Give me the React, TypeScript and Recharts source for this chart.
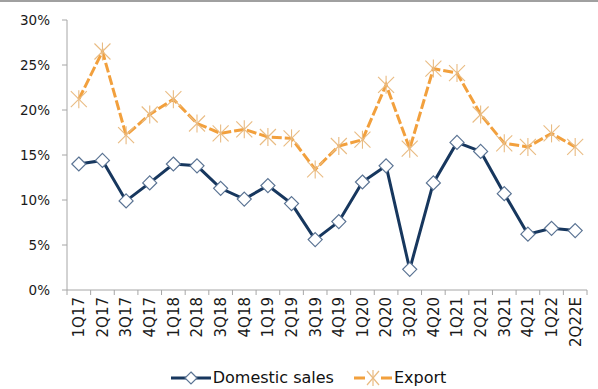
import React from 'react';
import { LineChart, Line, XAxis, YAxis, Legend } from 'recharts';

const quarters = ['1Q17','2Q17','3Q17','4Q17','1Q18','2Q18','3Q18','4Q18','1Q19','2Q19','3Q19','4Q19','1Q20','2Q20','3Q20','4Q20','1Q21','2Q21','3Q21','4Q21','1Q22','2Q22E'];
const domesticSales = [14.0,14.4,9.9,11.9,14.0,13.8,11.3,10.1,11.6,9.6,5.6,7.6,12.0,13.8,2.3,11.9,16.4,15.4,10.7,6.2,6.85,6.6];
const exportSales = [21.2,26.5,17.2,19.5,21.2,18.5,17.4,17.85,17.0,16.85,13.4,16.0,16.7,22.8,15.7,24.6,24.1,19.5,16.3,15.9,17.4,15.9];
const yTicks = [0,5,10,15,20,25,30];

const data = quarters.map((q, i) => ({ q, domestic: domesticSales[i], exp: exportSales[i] }));

const NAVY = '#17375E';
const ORANGE = '#F2A03D';
const STAR = '#E9BB82';
const AXIS = '#A6A6A6';
const FONT = '"DejaVu Sans", sans-serif';
const CHART_W = 598;
const MARGIN = { top: 20, right: 11, left: 0, bottom: 0 };
const Y_W = 67;
const PLOT_W = CHART_W - MARGIN.left - MARGIN.right - Y_W;
const HALF_STEP = PLOT_W / quarters.length / 2;

const Diamond = (props: any) => {
  const { cx, cy } = props;
  if (cx == null || cy == null) return null;
  const r = 7;
  return (
    <polygon
      key={`d-${props.index}`}
      points={`${cx},${cy - r} ${cx + r},${cy} ${cx},${cy + r} ${cx - r},${cy}`}
      fill="#fff"
      stroke="#5A7393"
      strokeWidth={1.2}
    />
  );
};

const Star = (props: any) => {
  const { cx, cy } = props;
  if (cx == null || cy == null) return null;
  const r = 8;
  return (
    <g key={`s-${props.index}`} stroke={STAR} strokeWidth={1.1}>
      <line x1={cx - r} y1={cy - r} x2={cx + r} y2={cy + r} />
      <line x1={cx + r} y1={cy - r} x2={cx - r} y2={cy + r} />
      <line x1={cx} y1={cy - r - 1} x2={cx} y2={cy + r + 1} />
    </g>
  );
};

const XTick = (props: any) => {
  const { x, y, payload, index } = props;
  const isLast = index === quarters.length - 1;
  return (
    <g transform={`translate(${x},${y})`}>
      <line x1={-HALF_STEP} y1={-7} x2={-HALF_STEP} y2={-2} stroke={AXIS} />
      {isLast && <line x1={HALF_STEP} y1={-7} x2={HALF_STEP} y2={-2} stroke={AXIS} />}
      <text x={0} y={0} dy="0.36em" transform="rotate(-90)" textAnchor="end" fill="#1a1a1a" fontSize={15} fontFamily={FONT}>
        {payload.value}
      </text>
    </g>
  );
};

const LegendContent = () => (
  <div style={{ display: 'flex', justifyContent: 'center', alignItems: 'center', fontFamily: FONT, fontSize: 16, color: '#111', paddingLeft: 30 }}>
    <svg width={40} height={16} style={{ marginRight: 2 }}>
      <line x1={0} y1={8} x2={40} y2={8} stroke={NAVY} strokeWidth={3} />
      <polygon points="20,2 26,8 20,14 14,8" fill="#fff" stroke="#5A7393" strokeWidth={1.2} />
    </svg>
    <span style={{ marginRight: 20 }}>Domestic sales</span>
    <svg width={38} height={18} style={{ marginRight: 2 }}>
      <line x1={0} y1={9} x2={38} y2={9} stroke={ORANGE} strokeWidth={3} />
      <rect x={11} y={0} width={16} height={18} fill="#fff" />
      <g stroke={STAR} strokeWidth={1.2}>
        <line x1={13} y1={2} x2={25} y2={16} />
        <line x1={25} y1={2} x2={13} y2={16} />
        <line x1={19} y1={1} x2={19} y2={17} />
      </g>
    </svg>
    <span>Export</span>
  </div>
);

export default function App() {
  return (
    <div style={{ position: 'absolute', left: 0, top: 0, width: 598, height: 389, background: '#fff' }}>
      <div style={{ position: 'absolute', left: 0, top: 0, width: 598, height: 2, background: '#A0A0A0' }} />
      <LineChart width={CHART_W} height={389} data={data} margin={MARGIN}>
        <XAxis
          dataKey="q"
          interval={0}
          tick={<XTick />}
          tickLine={false}
          axisLine={{ stroke: AXIS }}
          tickSize={5}
          tickMargin={2}
          height={69}
          padding={{ left: HALF_STEP, right: HALF_STEP }}
        />
        <YAxis
          domain={[0, 30]}
          ticks={yTicks}
          tickFormatter={(v: number) => `${v}%`}
          width={Y_W}
          tick={{ fontSize: 13.5, fill: '#1a1a1a', fontFamily: FONT }}
          tickLine={{ stroke: AXIS }}
          tickSize={5}
          tickMargin={12}
          axisLine={{ stroke: AXIS }}
        />
        <Legend verticalAlign="bottom" height={30} content={<LegendContent />} wrapperStyle={{ top: 368 }} />
        <Line type="linear" dataKey="domestic" name="Domestic sales" stroke={NAVY} strokeWidth={3} dot={<Diamond />} activeDot={false} isAnimationActive={false} />
        <Line type="linear" dataKey="exp" name="Export" stroke={ORANGE} strokeWidth={3} strokeDasharray="10 3" dot={<Star />} activeDot={false} isAnimationActive={false} />
      </LineChart>
    </div>
  );
}
